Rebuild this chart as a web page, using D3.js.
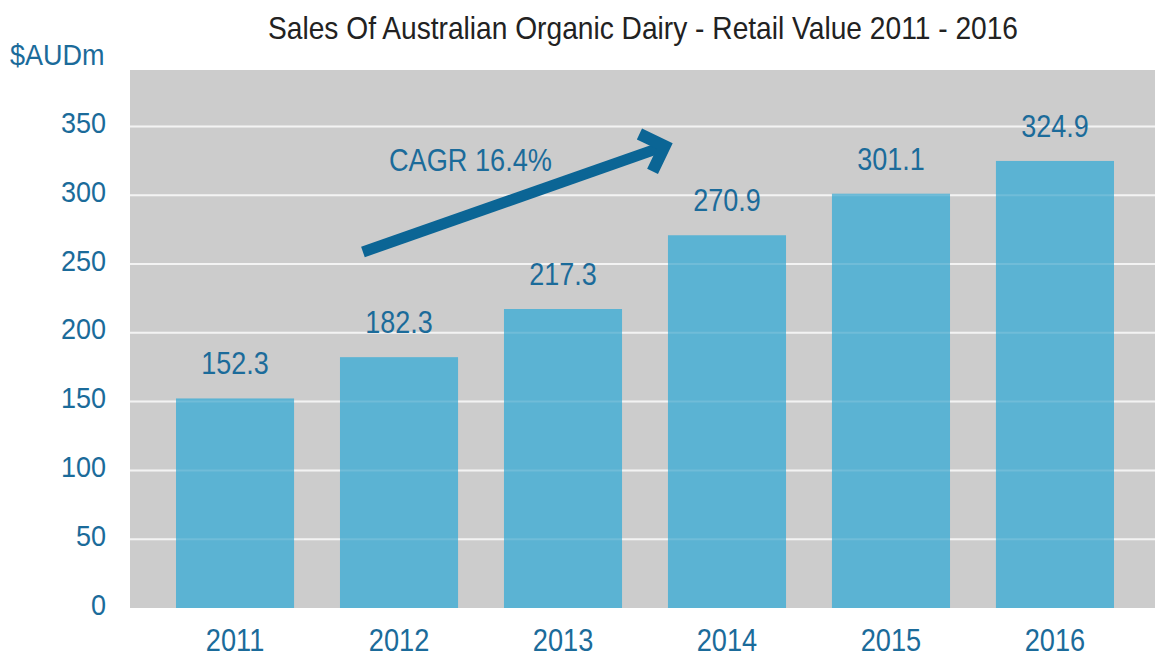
<!DOCTYPE html>
<html>
<head>
<meta charset="utf-8">
<script src="https://cdn.jsdelivr.net/npm/d3@7"></script>
<style>
  html, body { margin: 0; padding: 0; background: #ffffff; }
  svg { display: block; font-family: "Liberation Sans", Arial, sans-serif; }
</style>
</head>
<body>
<svg id="chart" width="1155" height="660"></svg>
<script>
// ---- data ----
const categories = ["2011", "2012", "2013", "2014", "2015", "2016"];
const values = [152.3, 182.3, 217.3, 270.9, 301.1, 324.9];
const valueLabels = ["152.3", "182.3", "217.3", "270.9", "301.1", "324.9"];
const yTicks = [0, 50, 100, 150, 200, 250, 300, 350];
const yMax = 391;
const titleText = "Sales Of Australian Organic Dairy - Retail Value 2011 - 2016";
const unitLabel = "$AUDm";
const cagrLabel = "CAGR 16.4%";
// arrow annotation: [category-index position, value]
const arrowStart = [0.78, 258.7];
const arrowEnd = [2.62, 335.7];

// ---- styles ----
const blueText = "#1b6b9a";
const barColor = "#5bb3d3";
const bgGray = "#cccccc";
const gridColor = "#f2f2f2";
const arrowColor = "#0b6595";

const svg = d3.select("#chart");
const plot = { left: 130, right: 1155, top: 70, bottom: 608 };

const x = d3.scaleBand()
  .domain(categories)
  .range([135, 1155])
  .paddingInner(0.28)
  .paddingOuter(0.25);

const y = d3.scaleLinear()
  .domain([0, yMax])
  .range([plot.bottom, plot.top]);

const step = x.step();
const bw = x.bandwidth();
const xAt = i => x(categories[0]) + bw / 2 + i * step;

function condense(sel, factor) {
  sel.each(function () {
    const n = this.getComputedTextLength();
    d3.select(this).attr("textLength", n * factor).attr("lengthAdjust", "spacingAndGlyphs");
  });
}

// background
svg.append("rect")
  .attr("x", plot.left).attr("y", y(yMax))
  .attr("width", plot.right - plot.left)
  .attr("height", y(0) - y(yMax))
  .attr("fill", bgGray);

// gridlines
svg.append("g").selectAll("line")
  .data(yTicks.filter(d => d > 0))
  .join("line")
  .attr("x1", plot.left).attr("x2", plot.right)
  .attr("y1", d => y(d)).attr("y2", d => y(d))
  .attr("stroke", gridColor).attr("stroke-width", 2);

// bars
svg.append("g").selectAll("rect")
  .data(values)
  .join("rect")
  .attr("x", (d, i) => x(categories[i]))
  .attr("y", d => y(d))
  .attr("width", bw)
  .attr("height", d => y(0) - y(d))
  .attr("fill", barColor);

// faint gridlines through bars
svg.append("g").selectAll("line")
  .data(yTicks.filter(d => d > 0))
  .join("line")
  .attr("x1", plot.left).attr("x2", plot.right)
  .attr("y1", d => y(d)).attr("y2", d => y(d))
  .attr("stroke", "#ffffff").attr("stroke-opacity", 0.13).attr("stroke-width", 2);

// y axis labels
const yAxis = svg.append("g")
  .attr("transform", `translate(106,0)`)
  .call(d3.axisLeft(y).tickValues(yTicks).tickSize(0).tickPadding(0));
yAxis.select(".domain").remove();
yAxis.selectAll("text")
  .attr("font-size", 30)
  .attr("fill", blueText)
  .attr("font-family", "Liberation Sans, Arial, sans-serif")
  .attr("dy", "0.2em")
  .call(condense, 0.9);

// x axis labels
const xAxis = svg.append("g")
  .attr("transform", `translate(0,${plot.bottom})`)
  .call(d3.axisBottom(x).tickSize(0).tickPadding(0));
xAxis.select(".domain").remove();
xAxis.selectAll("text")
  .attr("font-size", 32)
  .attr("fill", blueText)
  .attr("font-family", "Liberation Sans, Arial, sans-serif")
  .attr("dy", 0)
  .attr("y", 43)
  .call(condense, 0.85);

// value labels
svg.append("g").selectAll("text")
  .data(values)
  .join("text")
  .attr("x", (d, i) => x(categories[i]) + bw / 2)
  .attr("y", d => y(d) - 24)
  .attr("text-anchor", "middle")
  .attr("font-size", 31)
  .attr("fill", blueText)
  .text((d, i) => valueLabels[i])
  .call(condense, 0.87);

// title
svg.append("text")
  .attr("x", 643).attr("y", 39)
  .attr("text-anchor", "middle")
  .attr("font-size", 32)
  .attr("fill", "#222222")
  .text(titleText)
  .attr("textLength", 750).attr("lengthAdjust", "spacingAndGlyphs");

// unit label
svg.append("text")
  .attr("x", 10).attr("y", 65)
  .attr("font-size", 30)
  .attr("fill", blueText)
  .text(unitLabel)
  .call(condense, 0.9);

// CAGR label
svg.append("text")
  .attr("x", 389).attr("y", 171)
  .attr("font-size", 31)
  .attr("fill", blueText)
  .text(cagrLabel)
  .call(condense, 0.876);

// arrow
const x0 = xAt(arrowStart[0]), y0 = y(arrowStart[1]);
const x1 = xAt(arrowEnd[0]), y1 = y(arrowEnd[1]);
const ang = Math.atan2(y1 - y0, x1 - x0);
const armLen = 28, armAng = Math.PI / 4;
const back = ang + Math.PI;
const a1 = [x1 + armLen * Math.cos(back - armAng), y1 + armLen * Math.sin(back - armAng)];
const a2 = [x1 + armLen * Math.cos(back + armAng), y1 + armLen * Math.sin(back + armAng)];
svg.append("line")
  .attr("x1", x0).attr("y1", y0).attr("x2", x1 - 4 * Math.cos(ang)).attr("y2", y1 - 4 * Math.sin(ang))
  .attr("stroke", arrowColor).attr("stroke-width", 11);
svg.append("path")
  .attr("d", d3.line()([a1, [x1, y1], a2]))
  .attr("fill", "none")
  .attr("stroke", arrowColor).attr("stroke-width", 12)
  .attr("stroke-linejoin", "miter").attr("stroke-miterlimit", 10);
</script>
</body>
</html>
